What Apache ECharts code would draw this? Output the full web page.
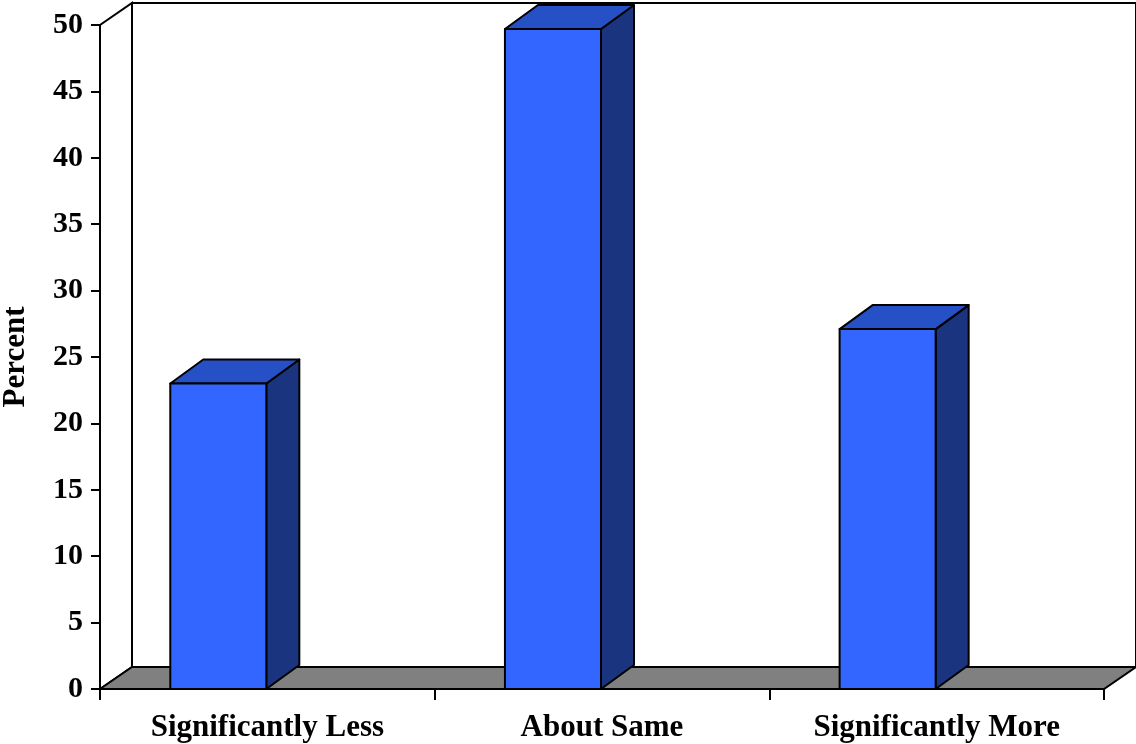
<!DOCTYPE html>
<html>
<head>
<meta charset="utf-8">
<script src="https://cdn.jsdelivr.net/npm/echarts@6/dist/echarts.min.js"></script>
<style>
html,body{margin:0;padding:0;background:#fff;}
#chart{width:1136px;height:744px;}
</style>
</head>
<body>
<div id="chart"></div>
<script>
const categories = ['Significantly Less', 'About Same', 'Significantly More'];
const percentValues = [23.0, 49.7, 27.1];
const yAxisTitle = 'Percent';

const FRONT = '#3366FF';
const TOP = '#2650C6';
const SIDE = '#1B3480';
const FLOOR = '#808080';
const WALL_DX = 32, WALL_DY = -22;
const BAR_DX = 33, BAR_DY = -24;
const FONT = '"Liberation Serif", "Times New Roman", serif';

const chart = echarts.init(document.getElementById('chart'), null, {renderer: 'canvas'});

function renderWalls(params, api) {
  const cs = params.coordSys;
  const x = cs.x, y = cs.y, w = cs.width, h = cs.height;
  const st = {stroke: '#000', lineWidth: 2};
  return {
    type: 'group',
    children: [
      {type: 'rect', shape: {x: x + WALL_DX, y: y + WALL_DY, width: w, height: h},
       style: Object.assign({fill: '#fff'}, st)},
      {type: 'polygon', shape: {points: [[x, y + h], [x, y], [x + WALL_DX, y + WALL_DY], [x + WALL_DX, y + h + WALL_DY]]},
       style: Object.assign({fill: '#fff'}, st)},
      {type: 'polygon', shape: {points: [[x, y + h], [x + WALL_DX, y + h + WALL_DY], [x + w + WALL_DX, y + h + WALL_DY], [x + w, y + h]]},
       style: Object.assign({fill: FLOOR}, st)}
    ]
  };
}

function renderBar(params, api) {
  const idx = api.value(0), v = api.value(1);
  const top = api.coord([idx, v]);
  const base = api.coord([idx, 0]);
  const cw = api.size([1, 0])[0];
  const x0 = top[0] - cw / 2 + cw * 0.21;
  const w = cw * 0.287;
  const st = {stroke: '#000', lineWidth: 2, lineJoin: 'round'};
  return {
    type: 'group',
    children: [
      {type: 'polygon', shape: {points: [[x0 + w, top[1]], [x0 + w + BAR_DX, top[1] + BAR_DY], [x0 + w + BAR_DX, base[1] + BAR_DY], [x0 + w, base[1]]]},
       style: Object.assign({fill: SIDE}, st)},
      {type: 'polygon', shape: {points: [[x0, top[1]], [x0 + BAR_DX, top[1] + BAR_DY], [x0 + w + BAR_DX, top[1] + BAR_DY], [x0 + w, top[1]]]},
       style: Object.assign({fill: TOP}, st)},
      {type: 'rect', shape: {x: x0, y: top[1], width: w, height: base[1] - top[1]},
       style: Object.assign({fill: FRONT}, st)}
    ]
  };
}

chart.setOption({
  animation: false,
  backgroundColor: '#fff',
  grid: {left: 100, right: 32, top: 25, bottom: 55, containLabel: false, outerBoundsMode: 'none'},
  xAxis: {
    type: 'category',
    data: categories,
    boundaryGap: true,
    z: 5,
    axisLine: {show: true, lineStyle: {color: '#000', width: 2}},
    axisTick: {show: true, length: 11, alignWithLabel: false, lineStyle: {color: '#000', width: 2}},
    axisLabel: {color: '#000', fontFamily: FONT, fontWeight: 'bold', fontSize: 31, margin: 23, interval: 0, hideOverlap: false}
  },
  yAxis: {
    type: 'value',
    min: 0, max: 50, interval: 5,
    z: 5,
    name: yAxisTitle,
    nameLocation: 'middle',
    nameGap: 69,
    nameRotate: 90,
    nameMoveOverlap: false,
    nameTextStyle: {color: '#000', fontFamily: FONT, fontWeight: 'bold', fontSize: 31},
    splitLine: {show: false},
    axisLine: {show: true, lineStyle: {color: '#000', width: 2}},
    axisTick: {show: true, length: 9, lineStyle: {color: '#000', width: 2}},
    axisLabel: {color: '#000', fontFamily: FONT, fontWeight: 'bold', fontSize: 30, margin: 17, padding: [6, 0, 0, 0]}
  },
  series: [
    {type: 'custom', name: 'walls', z: 1, silent: true, renderItem: renderWalls, data: [[0, 0]], encode: {x: 0, y: 1}},
    {type: 'custom', name: 'Percent', z: 3, renderItem: renderBar,
     data: categories.map((c, i) => [i, percentValues[i]]), encode: {x: 0, y: 1}}
  ]
});
</script>
</body>
</html>
